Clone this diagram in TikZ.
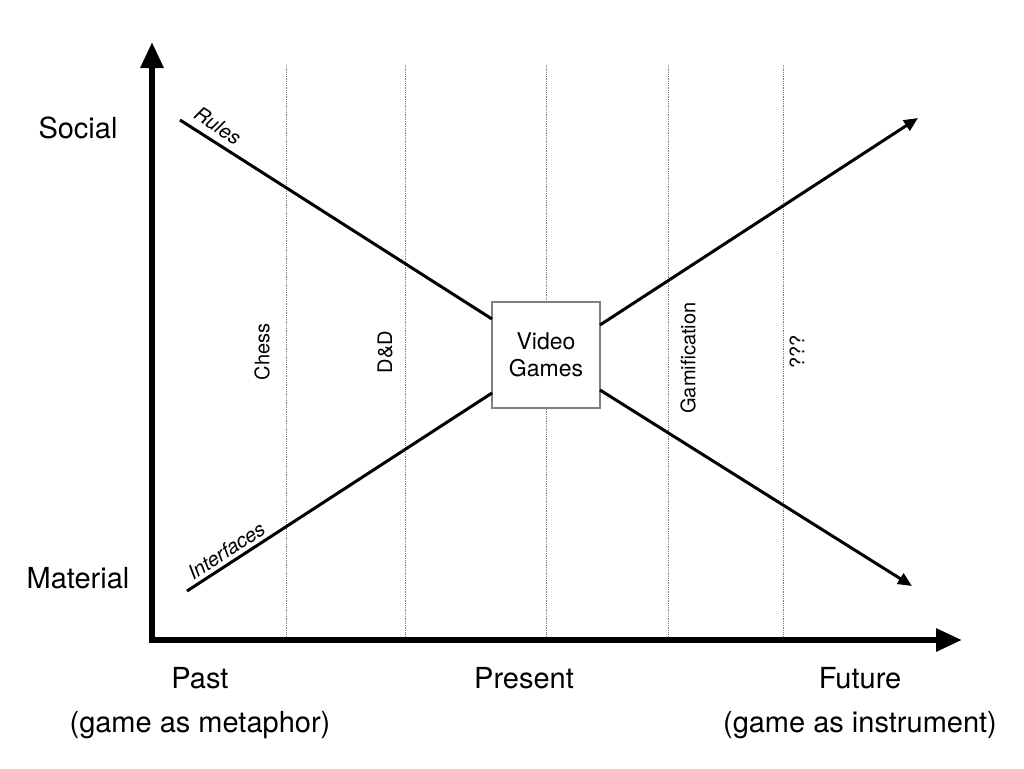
\documentclass[tikz,border=0pt]{standalone}
\usepackage{fontspec}
\setmainfont{TeX Gyre Heros}
\usetikzlibrary{arrows.meta}
\begin{document}
\begin{tikzpicture}[x=1pt,y=-1pt,
  big/.style={font=\fontsize{29}{34}\selectfont},
  small/.style={font=\fontsize{20}{23}\selectfont},
  grid/.style={densely dotted,gray,line width=0.8pt},
  trend/.style={line width=3pt},
  arr/.style={trend,-{Triangle[length=14pt,width=12pt]}}]
\useasboundingbox (0,0) rectangle (1024,768);
\foreach \x in {286,405,546,668,783} \draw[grid] (\x,65) -- (\x,640);
\draw[line width=6pt,-{Triangle[length=26pt,width=22pt]}] (152,643) -- (152,42);
\draw[line width=6pt,-{Triangle[length=26pt,width=22pt]}] (149,640) -- (962,640);
\node[draw=gray,line width=1.2pt,fill=white,minimum width=108pt,minimum height=106pt,align=center,font=\fontsize{23}{27}\selectfont] (vg) at (546,355) {Video\\Games};
\coordinate (r0) at (180,120); \coordinate (r1) at (912,586);
\coordinate (i0) at (187,591); \coordinate (i1) at (918,118);
\draw[trend] (r0) -- (492,319);
\draw[arr] (600,390) -- (r1);
\draw[trend] (i0) -- (492,393);
\draw[arr] (600,325) -- (i1);
\node[font=\fontsize{20}{23}\selectfont\itshape,rotate=-33,anchor=south,inner sep=1pt] at (213,133) {Rules};
\node[font=\fontsize{20}{23}\selectfont\itshape,rotate=33,anchor=south,inner sep=1pt] at (231,558) {Interfaces};
\node[small,rotate=90] (c) at (262,352) {Chess};
\node[small,rotate=90] (d) at (385,352) {D\&D};
\node[small,rotate=90] (g) at (688,358) {Gamification};
\node[small,rotate=90] (q) at (797,352) {???};
\node[big] at (78,128) {Social};
\node[big] at (78,578) {Material};
\node[big] at (200,678) {Past};
\node[big] at (524,678) {Present};
\node[big] at (860,678) {Future};
\node[big] at (200,725) {(game as metaphor)};
\node[big] at (860,725) {(game as instrument)};
\end{tikzpicture}
\end{document}
